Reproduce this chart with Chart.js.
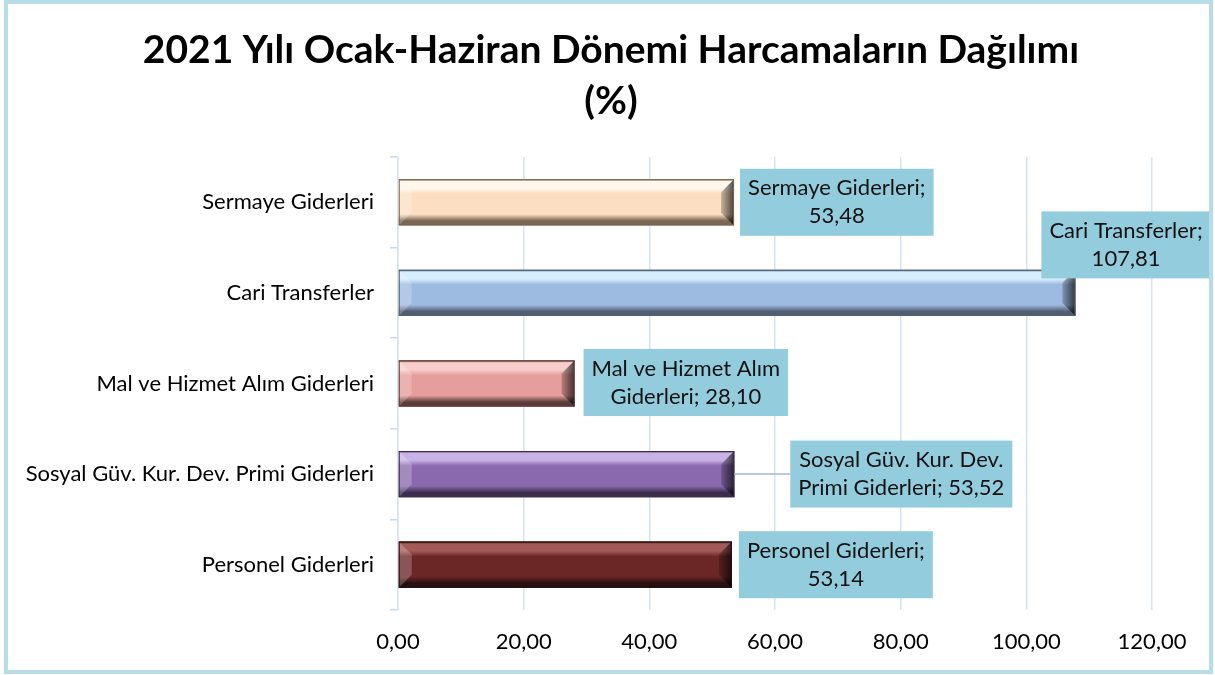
<!DOCTYPE html>
<html lang="tr">
<head>
<meta charset="utf-8">
<title>2021 Yılı Ocak-Haziran Dönemi Harcamaların Dağılımı</title>
<script src="https://cdn.jsdelivr.net/npm/chart.js@4.4.1/dist/chart.umd.min.js"></script>
<style>
  html, body { margin: 0; padding: 0; background: #fff; }
  #wrap { width: 1215px; height: 675px; position: relative; }
</style>
</head>
<body>
<div id="wrap"><canvas id="harcama"></canvas></div>
<script>
// veriler
const baslik = ['2021 Yılı Ocak-Haziran Dönemi Harcamaların Dağılımı', '(%)'];
const kategoriler = [
  'Sermaye Giderleri',
  'Cari Transferler',
  'Mal ve Hizmet Alım Giderleri',
  'Sosyal Güv. Kur. Dev. Primi Giderleri',
  'Personel Giderleri'
];
const oranlar = [53.48, 107.81, 28.10, 53.52, 53.14];
const etiketSatirlari = [
  ['Sermaye Giderleri;', '53,48'],
  ['Cari Transferler;', '107,81'],
  ['Mal ve Hizmet Alım', 'Giderleri; 28,10'],
  ['Sosyal Güv. Kur. Dev.', 'Primi Giderleri; 53,52'],
  ['Personel Giderleri;', '53,14']
];
const xTicks = [0, 20, 40, 60, 80, 100, 120];

// renkler: [ana, açık, koyu]
const barRenk = [
  ['#FCDFC0', '#FFF7EC', '#7A6654'],
  ['#9DBAE0', '#D6EEFD', '#525F72'],
  ['#E59E9C', '#F9CDCB', '#5C3C3B'],
  ['#8A69AE', '#C9B2E6', '#3C2D4E'],
  ['#6A2726', '#A35B59', '#281010']
];
// etiket kutusu yerleşimi (bar ucuna göre)
const etiketYer = [
  { dx: 6, dy: 0 },
  { dx: -34, dy: -48 },
  { dx: 9, dy: -1 },
  { dx: 56, dy: 0, cizgi: true },
  { dx: 7, dy: 0 }
];

const FONT = 'Lato, "Open Sans", sans-serif';
const fmt = (v) => v.toFixed(2).replace('.', ',');

// barları kabartmalı çiz
const bevelPlugin = {
  id: 'bevel',
  afterDatasetsDraw(chart) {
    const { ctx } = chart;
    chart.getDatasetMeta(0).data.forEach((el, i) => {
      const c = barRenk[i];
      const x0 = el.base, x1 = el.x;
      const y0 = el.y - el.height / 2, y1 = el.y + el.height / 2;
      const b = 13;
      ctx.save();
      const g = ctx.createLinearGradient(0, y0, 0, y1);
      g.addColorStop(0, c[2]);
      g.addColorStop(0.05, c[1]);
      g.addColorStop(0.2, c[1]);
      g.addColorStop(0.32, c[0]);
      g.addColorStop(0.76, c[0]);
      g.addColorStop(0.9, c[2]);
      g.addColorStop(1, c[2]);
      ctx.fillStyle = g;
      ctx.fillRect(x0, y0, x1 - x0, y1 - y0);
      // sol kenar
      ctx.fillStyle = 'rgba(255,255,255,0.22)';
      ctx.beginPath();
      ctx.moveTo(x0, y0); ctx.lineTo(x0 + b, y0 + b);
      ctx.lineTo(x0 + b, y1 - b); ctx.lineTo(x0, y1); ctx.closePath();
      ctx.fill();
      // sağ kenar
      const gr = ctx.createLinearGradient(x1 - b, 0, x1, 0);
      gr.addColorStop(0, 'rgba(0,0,0,0.2)');
      gr.addColorStop(1, 'rgba(0,0,0,0.7)');
      ctx.fillStyle = gr;
      ctx.beginPath();
      ctx.moveTo(x1, y0); ctx.lineTo(x1 - b, y0 + b);
      ctx.lineTo(x1 - b, y1 - b); ctx.lineTo(x1, y1); ctx.closePath();
      ctx.fill();
      ctx.strokeStyle = c[2];
      ctx.lineWidth = 1;
      ctx.strokeRect(x0 + 0.5, y0 + 0.5, x1 - x0 - 1, y1 - y0 - 1);
      ctx.restore();
    });
  }
};

// veri etiketleri
const etiketPlugin = {
  id: 'etiketler',
  afterDatasetsDraw(chart) {
    const { ctx } = chart;
    ctx.save();
    ctx.font = '22px ' + FONT;
    ctx.textAlign = 'center';
    ctx.textBaseline = 'middle';
    chart.getDatasetMeta(0).data.forEach((el, i) => {
      const lines = etiketSatirlari[i];
      const yer = etiketYer[i];
      const w = Math.max(...lines.map(l => ctx.measureText(l).width)) + 16;
      const h = 67;
      const bx = el.x + yer.dx;
      const cy = el.y + yer.dy;
      if (yer.cizgi) {
        ctx.strokeStyle = '#9DBAE0';
        ctx.lineWidth = 1.5;
        ctx.beginPath();
        ctx.moveTo(el.x, el.y);
        ctx.lineTo(bx, el.y);
        ctx.stroke();
      }
      ctx.fillStyle = '#93CDDD';
      ctx.fillRect(bx, cy - h / 2, w, h);
      ctx.fillStyle = '#111';
      ctx.fillText(lines[0], bx + w / 2, cy - 14);
      ctx.fillText(lines[1], bx + w / 2, cy + 14);
    });
    ctx.restore();
  }
};

// çerçeve ve başlık
const cerceve = {
  id: 'cerceve',
  beforeDraw(chart) {
    const { ctx, width, height } = chart;
    ctx.save();
    ctx.fillStyle = '#fff';
    ctx.fillRect(0, 0, width, height);
    ctx.fillStyle = '#000';
    ctx.font = 'bold 39px ' + FONT;
    ctx.textAlign = 'center';
    ctx.textBaseline = 'middle';
    ctx.fillText(baslik[0], 611, 50);
    ctx.fillText(baslik[1], 611, 101);
    ctx.restore();
  },
  afterDraw(chart) {
    const { ctx, width, height } = chart;
    ctx.save();
    ctx.strokeStyle = '#B7DDE8';
    ctx.lineWidth = 4;
    ctx.strokeRect(6, 2, width - 10, height - 5);
    ctx.restore();
  }
};

new Chart(document.getElementById('harcama'), {
  type: 'bar',
  data: {
    labels: kategoriler,
    datasets: [{
      data: oranlar,
      backgroundColor: barRenk.map(c => c[0]),
      borderWidth: 0,
      categoryPercentage: 1,
      barPercentage: 0.51
    }]
  },
  options: {
    indexAxis: 'y',
    responsive: true,
    maintainAspectRatio: false,
    animation: false,
    layout: { padding: { top: 157, left: 8, right: 63, bottom: 0 } },
    plugins: {
      legend: { display: false },
      tooltip: { enabled: false },
      title: { display: false }
    },
    scales: {
      x: {
        min: 0, max: 120,
        afterBuildTicks: (s) => { s.ticks = xTicks.map(v => ({ value: v })); },
        afterFit: (s) => { s.height = 65; },
        grid: { color: '#D5E3F3', lineWidth: 1.5, drawTicks: false },
        border: { display: false },
        ticks: { color: '#000', padding: 19, font: { family: FONT, size: 22 }, callback: (v) => fmt(v) }
      },
      y: {
        afterFit: (s) => { s.width = 390; },
        grid: { offset: true, drawOnChartArea: false, color: '#C6D9F1', tickLength: 8, lineWidth: 1.5 },
        border: { color: '#D5E3F3', width: 1.5 },
        ticks: { color: '#000', padding: 16, font: { family: FONT, size: 22 } }
      }
    }
  },
  plugins: [cerceve, bevelPlugin, etiketPlugin]
});
</script>
</body>
</html>
